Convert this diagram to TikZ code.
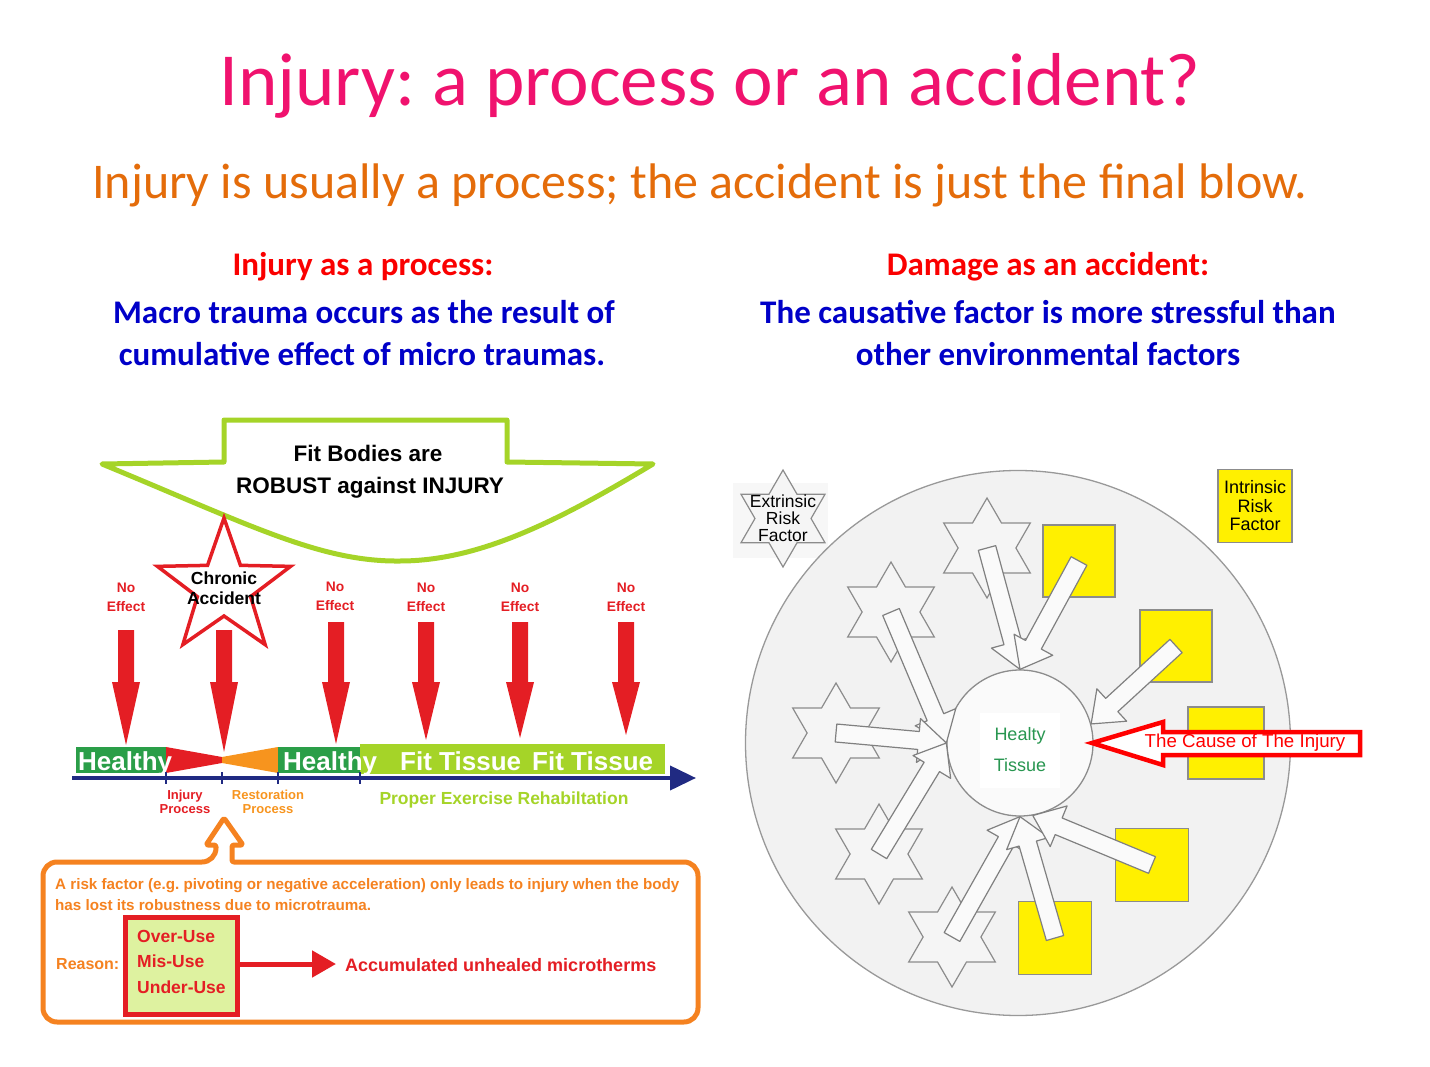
\documentclass[tikz,border=0pt]{standalone}
\usepackage{fontspec}
\setmainfont{Liberation Sans}
\newfontfamily\calibri{Carlito}
\usepackage{tikz}
\usetikzlibrary{calc}
\usetikzlibrary{positioning}
\usetikzlibrary{shapes.geometric}
\usetikzlibrary{arrows.meta}
\usepackage{xcolor}
\frenchspacing

\definecolor{titlepink}{RGB}{240,18,110}
\definecolor{suborange}{RGB}{228,108,10}
\definecolor{headred}{RGB}{250,0,0}
\definecolor{headblue}{RGB}{0,0,200}
\definecolor{fitgreen}{RGB}{165,212,40}
\definecolor{healthgreen}{RGB}{42,158,72}
\definecolor{hitred}{RGB}{228,30,36}
\definecolor{restorange}{RGB}{247,148,30}
\definecolor{navy}{RGB}{32,42,130}
\definecolor{callorange}{RGB}{245,130,32}
\definecolor{reasonfill}{RGB}{222,242,160}
\definecolor{riskyellow}{RGB}{255,240,0}
\definecolor{tissuegreen}{RGB}{40,150,80}

\newcommand{\sz}[2]{\fontsize{#1}{#2}\selectfont}

% red impact arrow: x, top of shaft, tip
\newcommand{\hitarrow}[3]{%
	\fill[hitred] (#1-8,#2) -- (#1+8,#2) -- (#1+8,682) -- (#1+14,682) -- (#1,#3) -- (#1-14,682) -- (#1-8,682) -- cycle;}

% grey block arrow from #1 to #2
\newcommand{\blockarrow}[2]{%
	\coordinate (hb) at ($(#2)!28pt!(#1)$);
	\draw[blk] ($(#1)!9pt!-90:(#2)$) -- ($(hb)!9pt!-90:(#2)$) -- ($(hb)!22pt!-90:(#2)$) -- (#2)
		-- ($(hb)!22pt!90:(#2)$) -- ($(hb)!9pt!90:(#2)$) -- ($(#1)!9pt!90:(#2)$) -- cycle;}

\begin{document}
\begin{tikzpicture}[x=1pt, y=-1pt,
		titletxt/.style = {font=\calibri\sz{75}{80}, text=titlepink, anchor=base},
		subtxt/.style = {font=\calibri\sz{50}{56}, text=suborange, anchor=base},
		headr/.style = {font=\calibri\bfseries\sz{33}{38}, text=headred, anchor=base},
		headb/.style = {font=\calibri\bfseries\sz{33}{38}, text=headblue, anchor=base},
		fitline/.style = {draw=fitgreen, line width=5pt, fill=white, line join=round},
		robust/.style = {font=\bfseries\sz{22.5}{24}, anchor=base},
		redstar/.style = {star, star points=5, star point ratio=2.5, minimum size=140pt, inner sep=0pt, draw=hitred, line width=3.5pt, fill=white},
		startxt/.style = {font=\bfseries\sz{17.5}{20}, align=center},
		noeff/.style = {font=\bfseries\sz{13.8}{19}, text=hitred, align=center},
		hbar/.style = {rectangle, fill=healthgreen, minimum height=26pt, inner sep=0pt},
		fitbar/.style = {rectangle, fill=fitgreen, minimum width=305pt, minimum height=30pt, inner sep=0pt},
		bartxt/.style = {font=\bfseries\sz{26}{28}, text=white, anchor=base west, inner sep=0pt},
		timeline/.style = {draw=navy, line width=4pt, -{Triangle[length=26pt, width=24pt]}},
		tick/.style = {draw=navy, line width=1.5pt},
		proclbl/.style = {font=\bfseries\sz{13}{14}, align=center},
		rehab/.style = {font=\bfseries\sz{17.5}{18}, text=fitgreen},
		callout/.style = {draw=callorange, line width=5pt, fill=white, line join=round},
		calltxt/.style = {font=\bfseries\sz{15.2}{16}, text=callorange, anchor=base west, inner sep=0pt},
		reasonbox/.style = {rectangle, draw=hitred, line width=5pt, fill=reasonfill, minimum width=112pt, minimum height=97pt},
		usetxt/.style = {font=\bfseries\sz{17.5}{19}, text=hitred, anchor=base west, inner sep=0pt},
		reasonarrow/.style = {draw=hitred, line width=5pt, -{Triangle[length=24pt, width=26pt]}},
		envcircle/.style = {circle, minimum size=545pt, draw=black!40, line width=1.3pt, fill=black!5},
		tissuecircle/.style = {circle, minimum size=146pt, draw=black!45, line width=1.3pt, fill=black!2},
		hexstar/.style = {star, star points=6, star point ratio=1.73, minimum size=100pt, inner sep=0pt, draw=black!45, line width=1.2pt, fill=black!4},
		riskbox/.style = {rectangle, minimum size=73pt, draw=black!45, line width=1.5pt, fill=riskyellow, inner sep=0pt},
		blk/.style = {draw=black!50, line width=1.2pt, fill=black!2, line join=round},
		risktxt/.style = {font=\sz{18}{18.5}, align=center},
		causearrow/.style = {draw=red, line width=4.5pt, fill=white, line join=miter},
		causetxt/.style = {font=\sz{18.7}{20}, text=red}
		]
		
		\useasboundingbox (0,0) rectangle (1430,1067);
		
		%Header
		\node[titletxt]	(title)	at	(710,106)	{Injury: a process or an accident?};
		\node[subtxt]	(sub)	at	(700,199)	{Injury is usually a process; the accident is just the final blow.};
		\node[headr]	(lhead)	at	(363,276)	{Injury as a process:};
		\node[headb]	(ltxt1)	at	(364,324)	{Macro trauma occurs as the result of};
		\node[headb]	(ltxt2)	at	(362,365)	{cumulative effect of micro traumas.};
		\node[headr]	(rhead)	at	(1048,276)	{Damage as an accident:};
		\node[headb]	(rtxt1)	at	(1048,324)	{The causative factor is more stressful than};
		\node[headb]	(rtxt2)	at	(1048,365)	{other environmental factors};
		
		%Left: robust shape and star
		\draw[fitline] (224,462) -- (224,420) -- (507,420) -- (507,462) -- (653,464)
			.. controls (560,520) and (480,561) .. (400,561)
			.. controls (320,562) and (250,525) .. (102,464) -- cycle;
		\node[robust]	(fit1)	at	(368,461)	{Fit Bodies are};
		\node[robust]	(fit2)	at	(370,493)	{ROBUST against INJURY};
		\node[redstar]	(chronic)	at	(224,588)	{};
		\node[startxt]	(chronictxt)	at	(chronic.center)	{Chronic\\Accident};
		
		\node[noeff]	(ne1)	at	(126,597)	{No\\Effect};
		\node[noeff]	(ne2)	at	(335,596)	{No\\Effect};
		\node[noeff]	(ne3)	at	(426,597)	{No\\Effect};
		\node[noeff]	(ne4)	at	(520,597)	{No\\Effect};
		\node[noeff]	(ne5)	at	(626,597)	{No\\Effect};
		
		%Bars
		\node[hbar, minimum width=90pt]	(hbar1)	at	(121,760)	{};
		\fill[hitred] (166,747) -- (222,757) -- (222,763) -- (166,773) -- cycle;
		\fill[restorange] (222,757) -- (278,747) -- (278,773) -- (222,763) -- cycle;
		\node[hbar, minimum width=82pt]	(hbar2)	at	(319,760)	{};
		\node[fitbar]	(fbar)	at	(512.5,759)	{};
		\node[bartxt]	(htxt1)	at	(78,770)	{Healthy};
		\node[bartxt]	(htxt2)	at	(283,770)	{Healthy};
		\node[bartxt]	(ftxt1)	at	(400,770)	{Fit Tissue};
		\node[bartxt]	(ftxt2)	at	(532,770)	{Fit Tissue};
		
		%Impact arrows
		\hitarrow{126}{630}{745}
		\hitarrow{224}{630}{752}
		\hitarrow{336}{622}{744}
		\hitarrow{426}{622}{740}
		\hitarrow{520}{622}{738}
		\hitarrow{626}{622}{735}
		
		%Timeline
		\coordinate	(t0)	at	(72,778);
		\coordinate	(t1)	at	(696,778);
		\draw[timeline]	(t0)	--	(t1);
		\foreach \x in {166,222,278,360}
			\draw[tick] (\x,772) -- (\x,784);
		\node[proclbl, text=hitred]	(injproc)	at	(185,802)	{Injury\\Process};
		\node[proclbl, text=restorange]	(restproc)	at	(268,802)	{Restoration\\Process};
		\node[rehab]	(rehab)	at	(504,800)	{Proper Exercise Rehabiltation};
		
		%Callout
		\draw[callout, rounded corners=14pt] (232,862) -- (698,862) -- (698,1022) -- (43,1022) -- (43,862) -- (216,862)
			[rounded corners=2pt] -- (216,845) -- (206,845) -- (224,818) -- (243,845) -- (232,845) -- cycle;
		\node[calltxt]	(risk1)	at	(55,889)	{A risk factor (e.g. pivoting or negative acceleration) only leads to injury when the body};
		\node[calltxt]	(risk2)	at	(55,910)	{has lost its robustness due to microtrauma.};
		\node[calltxt, font=\bfseries\sz{16}{17}]	(reason)	at	(56,969)	{Reason:};
		\node[reasonbox]	(uses)	at	(181,966)	{};
		\node[usetxt]	(over)	at	(137,942)	{Over-Use};
		\node[usetxt]	(mis)	at	(137,967)	{Mis-Use};
		\node[usetxt]	(under)	at	(137,993)	{Under-Use};
		\coordinate	(acc)	at	(336,964);
		\draw[reasonarrow]	(uses.east |- acc)	--	(acc);
		\node[usetxt, font=\bfseries\sz{18}{19}]	(accum)	at	(345,971)	{Accumulated unhealed microtherms};
		
		%Right: environment
		\fill[black!3] (733,483) rectangle (828,558);
		\node[hexstar, minimum size=97pt]	(extr)	at	(783,518.5)	{};
		\node[risktxt, font=\sz{17.5}{17}]	(extrtxt)	at	(extr.center)	{Extrinsic\\Risk\\Factor};
		\node[riskbox, minimum width=74pt]	(intr)	at	(1255,506)	{};
		\node[risktxt]	(intrtxt)	at	(intr.center)	{Intrinsic\\Risk\\Factor};
		
		\node[envcircle]	(env)	at	(1018,743)	{};
		\node[tissuecircle]	(tissue)	at	(1020,743)	{};
		
		\node[hexstar]	(s1)	at	(987,548)	{};
		\node[hexstar]	(s2)	at	(891,612)	{};
		\node[hexstar]	(s3)	at	(836,733)	{};
		\node[hexstar]	(s4)	at	(879,854)	{};
		\node[hexstar]	(s5)	at	(952,937)	{};
		\node[riskbox, minimum size=72pt]	(q1)	at	(1079,561)	{};
		\node[riskbox, minimum size=72pt]	(q2)	at	(1176,646)	{};
		\node[riskbox, minimum width=76pt, minimum height=72pt]	(q3)	at	(1226,743)	{};
		\node[riskbox]	(q4)	at	(1152,865)	{};
		\node[riskbox]	(q5)	at	(1055,938)	{};
		
		%Lines
		\blockarrow{s1.center}{tissue.north}
		\blockarrow{q1.center}{tissue.north}
		\blockarrow{s2.center}{tissue.west}
		\blockarrow{s3.center}{tissue.west}
		\blockarrow{s4.center}{tissue.west}
		\blockarrow{q2.center}{tissue.15}
		\blockarrow{s5.center}{tissue.south}
		\blockarrow{q5.center}{tissue.south}
		\blockarrow{q4.center}{tissue.-80}
		
		\node[fill=white, minimum width=80pt, minimum height=75pt, text=tissuegreen, font=\sz{18}{31}, align=center]	(tbox)	at	(1020,750)	{Healty\\Tissue};
		
		\coordinate	(causetip)	at	(1092,743);
		\draw[causearrow] (1360,732) -- (1163,732) -- (1163,722) -- (causetip) -- (1163,765) -- (1163,755) -- (1360,755) -- cycle;
		\node[causetxt]	(cause)	at	(1245,743)	{The Cause of The Injury};
	\end{tikzpicture}
\end{document}
